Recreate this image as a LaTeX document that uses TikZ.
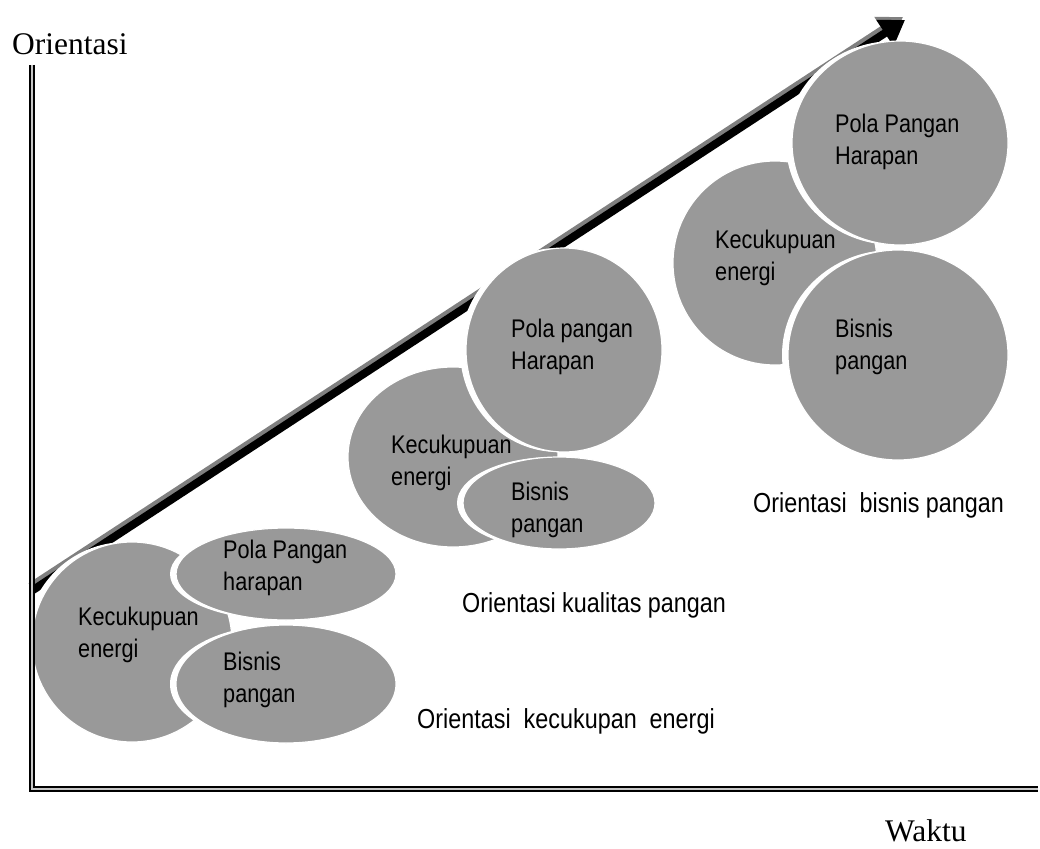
\documentclass[tikz,border=0pt]{standalone}
\usepackage{fontspec}
\setmainfont{Liberation Serif}
\newfontfamily\arialf[FakeStretch=0.85]{Liberation Sans}
\usetikzlibrary{shapes.geometric,arrows.meta}
\definecolor{blobgray}{RGB}{153,153,153}
\newcommand{\myblob}[5]{%
  \node[blobwhite, minimum width={(2*#4)*1pt}, minimum height={(2*#5)*1pt}] (#1w) at ({#2-6},#3) {};
  \node[blobfill, minimum width={(2*#4)*1pt}, minimum height={(2*#5)*1pt}] (#1) at (#2,#3) {};
}
\begin{document}
\begin{tikzpicture}[x=1pt,y=-1pt,
  blobwhite/.style={ellipse, fill=white, inner sep=0pt, outer sep=0pt},
  blobfill/.style={ellipse, fill=blobgray, draw=white, line width=1.2pt, inner sep=0pt, outer sep=0pt},
  lbl/.style={font=\arialf\fontsize{25.5}{32}\selectfont, inner sep=0pt, anchor=north west, align=left},
  olbl/.style={font=\arialf\fontsize{27.5}{32}\selectfont, inner sep=0pt, anchor=base west},
  axislbl/.style={font=\fontsize{31.5}{36}\selectfont, inner sep=0pt, anchor=base west},
  axisline/.style={line width=2.2pt, double=gray!45, double distance=1.4pt},
  arrowtip/.style={-{Triangle[length=24pt,width=30pt]}}]
\useasboundingbox (0,0) rectangle (1040,848);
% trend arrow
\coordinate (atail) at (33,590);
\coordinate (ahead) at (905,20);
\draw[gray, line width=9pt, arrowtip] ([shift={(-2,-3)}]atail) -- ([shift={(-2,-3)}]ahead);
\draw[black, line width=8pt, arrowtip] (atail) -- (ahead);
% group 1
\myblob{k1}{132}{642}{100}{100}
\myblob{p1}{286}{574}{110}{46}
\myblob{b1}{286}{684}{110}{59}
% group 2
\myblob{k2}{453}{457}{105}{90}
\myblob{p2}{564}{350}{98}{102}
\myblob{b2}{559}{503}{96}{46}
% group 3
\myblob{k3}{775}{263}{102}{102}
\myblob{p3}{900}{143}{108}{102}
\myblob{b3}{898}{355}{110}{105}
% texts
\node[lbl] (tk1) at (78,607) {Kecukupuan\\energi};
\node[lbl] (tp1) at (223,540) {Pola Pangan\\harapan};
\node[lbl] (tb1) at (223,652) {Bisnis\\pangan};
\node[lbl] (tk2) at (391,435) {Kecukupuan\\energi};
\node[lbl] (tp2) at (511,319) {Pola pangan\\Harapan};
\node[lbl] (tb2) at (511,482) {Bisnis\\pangan};
\node[lbl] (tk3) at (715,230) {Kecukupuan\\energi};
\node[lbl] (tp3) at (835,114) {Pola Pangan\\Harapan};
\node[lbl] (tb3) at (835,319) {Bisnis\\pangan};
% orientation labels
\node[olbl] (o1) at (417,728) {Orientasi\ \ kecukupan\ \ energi};
\node[olbl] (o2) at (462,612) {Orientasi kualitas pangan};
\node[olbl] (o3) at (753,512) {Orientasi\ \ bisnis pangan};
% axes
\coordinate (otop) at (32,65);
\coordinate (orig) at (32,789);
\coordinate (xend) at (1038,789);
\draw[axisline] (otop) -- (orig) -- (xend);
\node[axislbl] (ylab) at (12,55) {Orientasi};
\node[axislbl] (xlab) at (885,841) {Waktu};
\end{tikzpicture}
\end{document}
